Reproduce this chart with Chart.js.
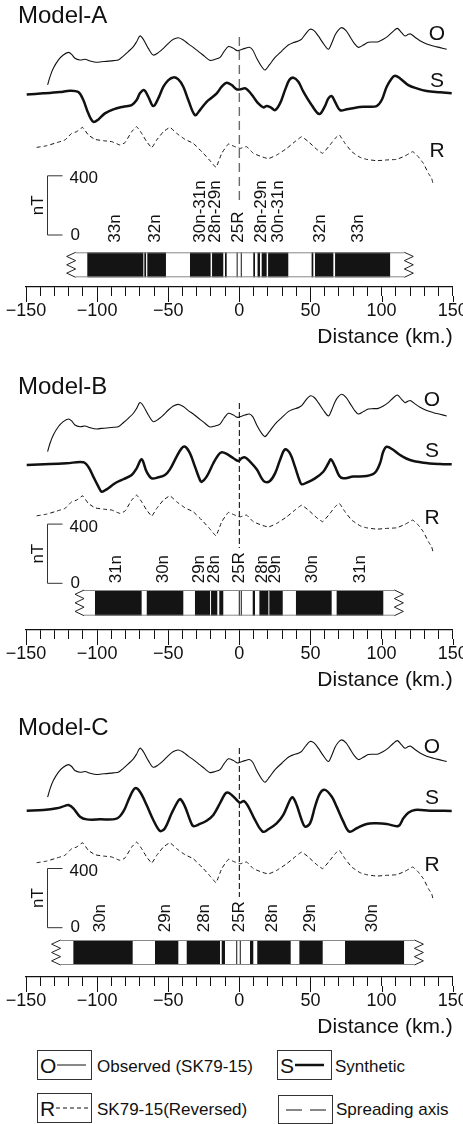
<!DOCTYPE html>
<html>
<head>
<meta charset="utf-8">
<script src="https://cdn.jsdelivr.net/npm/chart.js@4.4.1/dist/chart.umd.min.js"></script>
<style>
  body { margin: 0; background: #fff; width: 463px; height: 1124px; position: relative; overflow: hidden;
         font-family: "Liberation Sans", Arial, sans-serif; color: #111; }
  canvas.panel { position: absolute; left: 0; }
  .lbox { position: absolute; width: 55px; height: 30px; border: 1px solid #333; box-sizing: border-box;
          display: flex; align-items: center; padding-left: 2px; }
  .lbox b { font-weight: normal; font-size: 21px; line-height: 1; }
  .lbox svg { display: block; margin-left: 1px; }
  .ltxt { position: absolute; font-size: 17px; line-height: 1; transform: translateY(-50%); white-space: nowrap; }
</style>
</head>
<body>
<canvas id="cA" class="panel" width="463" height="348" style="top:0px"></canvas>
<canvas id="cB" class="panel" width="463" height="348" style="top:343px"></canvas>
<canvas id="cC" class="panel" width="463" height="348" style="top:690px"></canvas>

<div class="lbox" style="left:37px;top:1050px"><b>O</b><svg width="30" height="4"><line x1="0" y1="2" x2="29" y2="2" stroke="#111" stroke-width="1"/></svg></div>
<span class="ltxt" style="left:97px;top:1066px">Observed (SK79-15)</span>
<div class="lbox" style="left:277px;top:1050px"><b>S</b><svg width="30" height="4"><line x1="0" y1="2" x2="29" y2="2" stroke="#111" stroke-width="2.5"/></svg></div>
<span class="ltxt" style="left:335px;top:1066px">Synthetic</span>
<div class="lbox" style="left:37px;top:1093px"><b>R</b><svg width="33" height="4"><line x1="0" y1="2" x2="32" y2="2" stroke="#111" stroke-width="1" stroke-dasharray="4 3"/></svg></div>
<span class="ltxt" style="left:97px;top:1109px">SK79-15(Reversed)</span>
<div class="lbox" style="left:278px;top:1095px;height:29px;padding-left:6px"><svg width="42" height="4"><line x1="0" y1="2" x2="42" y2="2" stroke="#111" stroke-width="1" stroke-dasharray="16 8"/></svg></div>
<span class="ltxt" style="left:336px;top:1109px">Spreading axis</span>

<script>
// observed profile SK79-15 (same in every panel), distance in km, anomaly in nT
const obsKm = [-134.8,-133.1,-130.8,-127.3,-123.8,-120.2,-117.9,-115.6,-112.0,-108.5,
  -105.0,-100.3,-96.8,-93.3,-88.6,-85.1,-81.6,-78.1,-74.5,-72.2,
  -69.9,-67.5,-64.0,-60.5,-57.0,-53.4,-49.9,-46.4,-42.9,-39.4,
  -35.9,-32.4,-27.7,-24.2,-20.6,-17.1,-13.6,-10.8,-7.7,-4.2,
  -1.4,0.5,4.0,7.0,9.4,12.2,15.7,18.0,21.1,25.1,
  29.8,34.4,38.0,41.5,43.8,46.9,49.7,52.5,55.5,59.0,
  62.6,64.9,67.3,69.6,71.9,75.0,77.8,80.8,83.7,87.2,
  90.7,94.2,97.7,101.2,104.7,108.3,111.1,114.1,116.5,118.8,
  120.5,123.5,127.0,131.7,136.4,141.1,145.8];
const obsNT = [-236,-180,-124,-68,-34,-16,-29,-56,-68,-63,
  -74,-83,-79,-77,-72,-68,-41,-11,23,56,
  95,72,11,-34,-18,11,45,72,83,68,
  41,18,-18,-45,-70,-63,-50,-11,23,11,
  -5,0,11,18,0,-56,-113,-135,-101,-50,
  -7,34,50,61,74,113,140,131,95,45,
  5,45,101,135,151,131,90,45,18,34,
  52,54,56,72,95,128,146,117,95,106,
  108,86,63,41,27,16,5];

// reversed profile
const revKm = [-142.5,-135.5,-128.4,-122.6,-117.9,-114.4,-110.2,-106.2,-101.5,-95.6,
  -89.8,-83.9,-80.4,-75.7,-72.2,-68.7,-65.2,-61.6,-58.1,-53.4,
  -48.8,-44.1,-38.2,-32.4,-25.3,-20.6,-16.4,-12.4,-7.7,-4.2,
  0.5,5.1,9.8,15.7,20.4,26.2,33.3,39.1,43.8,48.5,
  54.4,58.6,63.7,67.3,70.3,74.3,79.0,84.8,89.5,96.5,
  103.6,110.6,116.5,121.9,125.8,129.4,132.9,135.2,136.4];
const revNT = [-16,-5,16,34,79,90,119,68,38,29,
  23,0,16,90,124,79,23,-18,34,90,
  119,79,38,11,-56,-106,-151,-56,7,-7,
  -23,-11,-56,-79,-92,-68,-23,23,56,23,
  -29,-56,0,45,68,11,-45,-83,-97,-106,
  -101,-97,-74,-45,-79,-124,-191,-225,-270];

// synthetic profiles
const synAKm = [-149.5,-137.8,-126.1,-119.1,-113.2,-109.7,-106.2,-102.7,-99.1,-94.5,
  -88.6,-81.6,-75.7,-72.2,-69.9,-67.0,-64.0,-60.5,-57.0,-53.4,
  -49.9,-46.4,-42.9,-39.4,-35.9,-31.2,-27.7,-23.0,-19.5,-15.9,
  -12.4,-8.9,-5.4,-1.9,0.5,4.0,6.3,9.8,13.3,16.9,
  19.2,22.0,25.1,28.6,32.1,35.1,38.0,41.5,45.0,50.8,
  56.2,60.2,62.6,64.9,67.3,70.8,75.5,82.5,89.5,96.5,
  100.1,103.6,107.1,109.4,113.0,118.8,124.7,131.7,141.1,149.3];
const synANT = [-9,-2,7,16,7,-47,-137,-194,-178,-137,
  -110,-92,-81,-47,-2,20,-25,-88,-36,43,
  88,106,92,43,-47,-149,-115,-59,-32,-2,
  43,70,54,25,25,32,16,-25,-70,-97,
  -88,-97,-115,-70,20,88,104,77,9,-81,
  -142,-88,-36,-20,-59,-115,-110,-97,-92,-88,
  -47,43,99,117,99,54,32,14,5,-2];

const synBKm = [-149.5,-133.1,-121.4,-109.7,-106.2,-102.7,-99.1,-96.8,-93.3,-87.4,
  -81.6,-75.7,-72.2,-68.7,-65.2,-61.6,-57.0,-52.3,-48.8,-44.1,
  -40.6,-38.2,-34.7,-31.2,-27.7,-26.5,-23.0,-18.3,-14.8,-12.4,
  -8.9,-4.2,-0.7,1.6,4.0,7.5,12.2,15.7,18.0,21.5,
  25.1,28.6,32.1,35.6,39.1,42.2,43.8,47.3,53.2,59.0,
  62.6,64.4,67.3,70.3,73.1,80.1,89.5,95.4,98.9,101.2,
  103.6,108.3,113.0,120.0,129.4,141.1,149.3];
const synBNT = [-5,2,7,14,-16,-83,-151,-185,-169,-128,
  -101,-72,-27,34,-50,-95,-88,-72,-34,52,
  108,119,74,-16,-106,-119,-83,7,63,81,
  70,41,23,41,47,18,-34,-95,-119,-113,
  -61,29,101,74,-16,-106,-135,-124,-95,-50,
  7,34,-16,-79,-95,-83,-79,-56,7,86,
  119,97,63,29,11,2,0];

const synCKm = [-149.5,-137.8,-128.4,-122.6,-120.2,-116.7,-112.0,-107.3,-98.0,-86.3,
  -81.6,-76.9,-73.4,-69.9,-65.2,-60.5,-55.8,-52.3,-47.6,-42.9,
  -41.3,-38.2,-34.7,-32.4,-27.7,-23.0,-18.3,-13.6,-10.1,-8.2,
  -5.4,-1.9,0.5,3.3,6.3,11.0,16.4,20.4,26.2,30.9,
  35.6,37.5,40.3,43.8,46.2,49.7,53.2,56.7,60.2,64.9,
  68.4,73.1,77.3,82.5,89.5,96.5,103.6,111.8,115.3,118.8,
  123.5,134.0,149.3];
const synCNT = [0,5,16,32,38,16,-41,-59,-59,-54,
  -7,95,151,128,38,-63,-137,-119,-18,68,
  77,27,-63,-104,-90,-68,-29,50,113,122,
  106,72,54,65,27,-63,-142,-126,-86,-29,
  72,90,38,-63,-108,-86,27,117,140,95,
  27,-74,-142,-119,-90,-86,-90,-104,-52,-14,
  5,0,-2];

// normal polarity blocks (black), km
const normA = [[-106.9,-67.5],[-66.8,-65.6],[-64.7,-51.6],[-34.7,-20.2],[-19.2,-11.3],[-10.1,-8.9],[-1.9,-1.2],
  [1.0,1.6],[9.8,11.0],[12.8,14.5],[15.7,19.2],[20.2,34.4],[50.8,52.0],[53.2,66.1],[67.3,106.0]];
const normB = [[-101.5,-68.7],[-65.1,-39.4],[-31.2,-20.6],[-19.9,-15.5],[-14.1,-11.3],[-0.4,0.3],
  [1.0,1.7],[9.4,11.0],[14.1,20.4],[21.1,30.5],[39.8,64.9],[68.4,101.2]];
const normC = [[-116.7,-75.0],[-59.3,-42.9],[-37.0,-13.6],[-12.4,-10.1],[-2.2,-1.5],[0.3,1.0],
  [7.5,9.8],[12.6,36.1],[42.2,58.6],[74.3,115.8]];

// chron labels over the blocks
const chronA = ['33n','32n','30n-31n','28n-29n','25R','28n-29n','30n-31n','32n','33n'];
const chronAKm = [-87.4,-59.3,-27.7,-17.1,-0.7,15.7,27.4,56.7,83.6];
const chronB = ['31n','30n','29n','28n','25R','28n','29n','30n','31n'];
const chronBKm = [-86.3,-53.4,-28.4,-17.8,-0.2,16.1,25.1,51.3,84.8];
const chronC = ['30n','29n','28n','25R','28n','29n','30n'];
const chronCKm = [-97.5,-51.8,-24.9,-0.2,23.2,50.1,93.5];

const scaleBarKm = -135.2;   // nT scale bar position
const scaleBarNT = [0, 400];
const pxPerNT = 0.148;
const FONT = '"Liberation Sans", Arial, sans-serif';

const panels = [
  { id: 'cA', title: 'Model-A', zeroPx: 235, offO: 1250, offS: 959, offR: 608,
    synKm: synAKm, synNT: synANT, blocks: normA, barEnds: [-121.4, 122.3],
    chrons: chronA, chronKm: chronAKm, axisNT: [1338, 216],
    layout: { titleY: 16, barPx: [252.3, 277.3], chronBottom: 242.7, letterX: 437, letterY: [34, 81, 151],
              dash: [9, 5], dashColor: '#6a6a6a', dashWidth: 1.4 } },
  { id: 'cB', title: 'Model-B', zeroPx: 240.3, offO: 1126, offS: 804, offR: 472,
    synKm: synBKm, synNT: synBNT, blocks: normB, barEnds: [-115.5, 115.3],
    chrons: chronB, chronKm: chronBKm, axisNT: [1218, 239],
    layout: { titleY: 44.5, barPx: [247, 272.7], chronBottom: 240.3, letterX: 432, letterY: [57, 108.7, 175.3],
              dash: [6, 3], dashColor: '#111', dashWidth: 1.1 } },
  { id: 'cC', title: 'Model-C', zeroPx: 237.7, offO: 1118, offS: 791, offR: 455,
    synKm: synCKm, synNT: synCNT, blocks: normC, barEnds: [-132, 129.4],
    chrons: chronC, chronKm: chronCKm, axisNT: [1214, 207],
    layout: { titleY: 38.5, barPx: [250, 275], chronBottom: 242.3, letterX: 432, letterY: [57.5, 108.3, 175],
              dash: [6, 3], dashColor: '#111', dashWidth: 1.1 } }
];

function decorFor(p) {
  const L = p.layout;
  return {
    id: 'decor' + p.id,
    afterDraw(chart) {
      const ctx = chart.ctx, xs = chart.scales.x, ys = chart.scales.y, area = chart.chartArea;
      ctx.save();
      ctx.fillStyle = '#111';
      ctx.strokeStyle = '#111';

      // longer ticks at labelled distances
      ctx.lineWidth = 1;
      ctx.beginPath();
      xs.ticks.forEach(t => {
        if (t.value % 50 !== 0) return;
        const x = Math.round(xs.getPixelForValue(t.value)) + 0.5;
        ctx.moveTo(x, area.bottom + 9);
        ctx.lineTo(x, area.bottom + 15);
      });
      ctx.stroke();

      // title
      ctx.font = '24px ' + FONT;
      ctx.textAlign = 'left';
      ctx.textBaseline = 'middle';
      ctx.fillText(p.title, 18, L.titleY);

      // curve letters
      ctx.font = '21px ' + FONT;
      ctx.textAlign = 'center';
      ['O', 'S', 'R'].forEach((s, i) => ctx.fillText(s, L.letterX, L.letterY[i]));

      // nT scale bar
      const sx = Math.round(xs.getPixelForValue(scaleBarKm)) + 0.5;
      const y0 = ys.getPixelForValue(scaleBarNT[0]), y4 = ys.getPixelForValue(scaleBarNT[1]);
      ctx.lineWidth = 1;
      ctx.strokeStyle = '#333';
      ctx.beginPath();
      ctx.moveTo(sx + 15, y4); ctx.lineTo(sx, y4); ctx.lineTo(sx, y0); ctx.lineTo(sx + 15, y0);
      ctx.stroke();
      ctx.font = '17px ' + FONT;
      ctx.textAlign = 'left';
      ctx.fillText(String(scaleBarNT[1]), sx + 22, y4 + 3);
      ctx.fillText(String(scaleBarNT[0]), sx + 23, y0);
      ctx.save();
      ctx.translate(sx - 9, (y0 + y4) / 2);
      ctx.rotate(-Math.PI / 2);
      ctx.textAlign = 'center';
      ctx.fillText('nT', 0, 0);
      ctx.restore();

      // chron labels
      p.chrons.forEach((lbl, i) => {
        ctx.save();
        ctx.translate(xs.getPixelForValue(p.chronKm[i]), L.chronBottom);
        ctx.rotate(-Math.PI / 2);
        ctx.textAlign = 'left';
        ctx.textBaseline = 'middle';
        ctx.fillText(lbl, 0, 0);
        ctx.restore();
      });

      // polarity bar
      const top = L.barPx[0], bot = L.barPx[1], h = bot - top;
      ctx.fillStyle = '#141414';
      p.blocks.forEach(([a, b]) => {
        const x1 = xs.getPixelForValue(a), x2 = xs.getPixelForValue(b);
        ctx.fillRect(x1, top, Math.max(x2 - x1, 1), h);
      });
      const xl = xs.getPixelForValue(p.barEnds[0]), xr = xs.getPixelForValue(p.barEnds[1]);
      ctx.strokeStyle = '#888';
      ctx.lineWidth = 1;
      ctx.beginPath();
      ctx.moveTo(xl + 9, top + 0.5); ctx.lineTo(xr - 9, top + 0.5);
      ctx.moveTo(xl + 9, bot - 0.5); ctx.lineTo(xr - 9, bot - 0.5);
      ctx.stroke();
      ctx.strokeStyle = '#222';
      ctx.beginPath();
      for (let i = 0; i <= 6; i++) {
        const y = top + h * i / 6;
        const x = i % 2 ? xl : xl + 9;
        if (i) ctx.lineTo(x, y); else ctx.moveTo(x, y);
      }
      for (let i = 0; i <= 6; i++) {
        const y = top + h * i / 6;
        const x = i % 2 ? xr : xr - 9;
        if (i) ctx.lineTo(x, y); else ctx.moveTo(x, y);
      }
      ctx.stroke();
      ctx.restore();
    }
  };
}

function xy(km, vals, off) {
  return km.map((x, i) => ({ x: x, y: vals[i] + off }));
}

const fmtKm = v => (v % 50 === 0 ? (v < 0 ? '\u2212' + Math.abs(v) : String(v)) : '');

panels.forEach(p => {
  const yMax = p.zeroPx / pxPerNT;
  const yMin = -(287 - p.zeroPx) / pxPerNT;
  new Chart(document.getElementById(p.id), {
    type: 'line',
    data: {
      datasets: [
        { label: 'Observed (SK79-15)', data: xy(obsKm, obsNT, p.offO),
          borderColor: '#111', borderWidth: 1.1, pointRadius: 0, tension: 0.3 },
        { label: 'Synthetic', data: xy(p.synKm, p.synNT, p.offS),
          borderColor: '#111', borderWidth: 2.5, pointRadius: 0, tension: 0.35 },
        { label: 'SK79-15(Reversed)', data: xy(revKm, revNT, p.offR),
          borderColor: '#111', borderWidth: 1, borderDash: [4, 3], pointRadius: 0, tension: 0.1 },
        { label: 'Spreading axis', data: [{ x: 0, y: p.axisNT[0] }, { x: 0, y: p.axisNT[1] }],
          borderColor: p.layout.dashColor, borderWidth: p.layout.dashWidth, borderDash: p.layout.dash, pointRadius: 0 }
      ]
    },
    options: {
      responsive: false,
      animation: false,
      events: [],
      layout: { padding: { left: 26, right: 10.3, top: 0, bottom: 0 } },
      plugins: { legend: { display: false }, tooltip: { enabled: false } },
      scales: {
        x: {
          type: 'linear', position: 'bottom', min: -150, max: 150,
          afterFit(s) { s.height = 61; s.paddingLeft = 0; s.paddingRight = 0; },
          border: { display: true, color: '#111', width: 1.2 },
          grid: { display: true, drawOnChartArea: false, drawTicks: true, tickLength: 9, tickColor: '#111' },
          ticks: { stepSize: 10, autoSkip: false, maxRotation: 0, minRotation: 0, padding: 6,
                   color: '#111', font: { family: FONT, size: 18, lineHeight: 1 }, callback: fmtKm },
          title: { display: true, text: 'Distance (km.)', align: 'end', color: '#111',
                   font: { family: FONT, size: 21, lineHeight: 1 }, padding: { top: 0, bottom: 0 } }
        },
        y: { type: 'linear', display: false, min: yMin, max: yMax }
      }
    },
    plugins: [decorFor(p)]
  });
});
</script>
</body>
</html>
